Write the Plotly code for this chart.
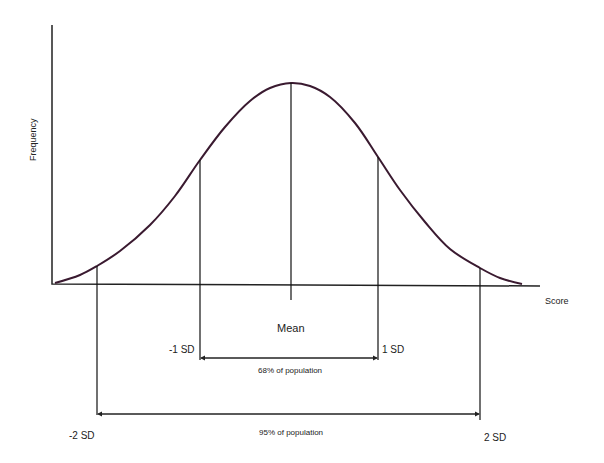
import plotly.graph_objects as go

# Curve (x in px-like score units, y in px from top)
curve_x = [55, 80, 97, 120, 150, 175, 200, 225, 250, 270, 291, 310, 330, 355, 378, 400, 425, 450, 480, 500, 522]
curve_y = [283, 275, 266, 251, 225, 196, 160, 127, 101, 88, 83, 86, 97, 123, 157, 190, 222, 249, 268, 278, 284]

marker_x = [97, 200, 291, 378, 480]
marker_top = [266, 160, 83, 157, 268]
marker_bottom = [415, 360, 300, 360, 420]
sd_labels = ["-2 SD", "-1 SD", "Mean", "1 SD", "2 SD"]

fig = go.Figure()
fig.add_trace(go.Scatter(x=[52, 52, 540], y=[25, 284, 286], mode="lines",
                         line=dict(color="#222", width=1.5), hoverinfo="skip"))
fig.add_trace(go.Scatter(x=curve_x, y=curve_y, mode="lines", line_shape="spline",
                         line=dict(color="#3a1a30", width=2), hoverinfo="skip"))
for x, t, b in zip(marker_x, marker_top, marker_bottom):
    fig.add_trace(go.Scatter(x=[x, x], y=[t, b], mode="lines",
                             line=dict(color="#111", width=1.2), hoverinfo="skip"))

def arrow(x0, x1, y):
    for a, b in ((x0, x1), (x1, x0)):
        fig.add_annotation(x=a, y=y, ax=b, ay=y, xref="x", yref="y", axref="x", ayref="y",
                           text="", showarrow=True, arrowhead=2, arrowsize=1, arrowwidth=1, arrowcolor="#222")
arrow(marker_x[1], marker_x[3], 358)
arrow(marker_x[0], marker_x[4], 414)

texts = [
    (291, 328, sd_labels[2], 11),
    (182, 349, sd_labels[1], 10), (393, 349, sd_labels[3], 10),
    (82, 435, sd_labels[0], 10), (495, 437, sd_labels[4], 10),
    (290, 370, "68% of population", 8), (291, 432, "95% of population", 8),
    (557, 301, "Score", 9),
]
for x, y, t, s in texts:
    fig.add_annotation(x=x, y=y, text=t, showarrow=False, font=dict(family="Liberation Sans", size=s, color="#222"))
fig.add_annotation(x=33, y=140, text="Frequency", showarrow=False, textangle=-90,
                   font=dict(family="Liberation Sans", size=9, color="#222"))

fig.update_layout(width=604, height=463, margin=dict(l=0, r=0, t=0, b=0),
                  plot_bgcolor="white", paper_bgcolor="white", showlegend=False,
                  xaxis=dict(range=[8, 612], visible=False),
                  yaxis=dict(range=[471, 8], visible=False))
fig.write_html("out.html")
